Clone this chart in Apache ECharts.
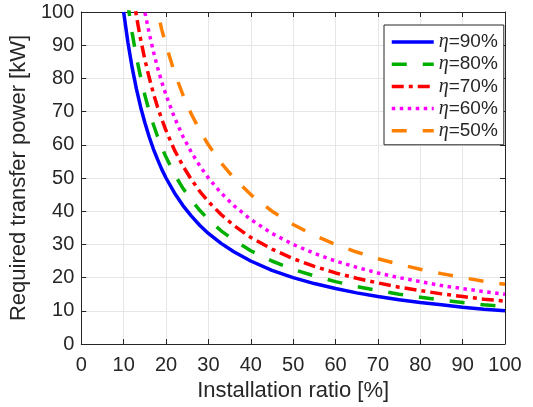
<!DOCTYPE html>
<html>
<head>
<meta charset="utf-8">
<script src="https://cdn.jsdelivr.net/npm/echarts@6/dist/echarts.min.js"></script>
<style>
  html, body { margin: 0; padding: 0; background: #fff; }
  #chart { width: 533px; height: 407px; }
</style>
</head>
<body>
<div id="chart"></div>
<script>
// Installation ratio [%] sample positions
var ratio = [10, 11, 12, 13, 14, 15, 16, 17, 18, 19, 20, 22, 24, 26, 28, 30, 33, 36, 40, 45,
             50, 55, 60, 65, 70, 75, 80, 85, 90, 95, 100];

// Required transfer power [kW] for each efficiency
var eta90 = [100, 90.9, 83.3, 76.9, 71.4, 66.7, 62.5, 58.8, 55.6, 52.6, 50, 45.5, 41.7, 38.5, 35.7,
             33.3, 30.3, 27.8, 25, 22.2, 20, 18.2, 16.7, 15.4, 14.3, 13.3, 12.5, 11.8, 11.1, 10.5, 10];
var eta80 = [112.5, 102.3, 93.8, 86.5, 80.4, 75, 70.3, 66.2, 62.5, 59.2, 56.3, 51.1, 46.9, 43.3, 40.2,
             37.5, 34.1, 31.3, 28.1, 25, 22.5, 20.5, 18.8, 17.3, 16.1, 15, 14.1, 13.2, 12.5, 11.8, 11.3];
var eta70 = [128.6, 116.9, 107.1, 98.9, 91.8, 85.7, 80.4, 75.6, 71.4, 67.7, 64.3, 58.4, 53.6, 49.5, 45.9,
             42.9, 39.0, 35.7, 32.1, 28.6, 25.7, 23.4, 21.4, 19.8, 18.4, 17.1, 16.1, 15.1, 14.3, 13.5, 12.9];
var eta60 = [150, 136.4, 125, 115.4, 107.1, 100, 93.8, 88.2, 83.3, 78.9, 75, 68.2, 62.5, 57.7, 53.6,
             50, 45.5, 41.7, 37.5, 33.3, 30, 27.3, 25, 23.1, 21.4, 20, 18.8, 17.6, 16.7, 15.8, 15];
var eta50 = [180, 163.6, 150, 138.5, 128.6, 120, 112.5, 105.9, 100, 94.7, 90, 81.8, 75, 69.2, 64.3,
             60, 54.5, 50, 45, 40, 36, 32.7, 30, 27.7, 25.7, 24, 22.5, 21.2, 20, 18.9, 18];

var seriesNames = ['90%', '80%', '70%', '60%', '50%'];
var seriesValues = [eta90, eta80, eta70, eta60, eta50];

var lineStyles = [
  { color: '#0000ff', width: 3.5, type: 'solid' },
  { color: '#00b000', width: 3.5, type: [15, 16] },
  { color: '#ff0000', width: 3.5, type: [12, 5, 4, 5] },
  { color: '#ff00ff', width: 3.5, type: [3.5, 4.5] },
  { color: '#ff8000', width: 3.5, type: [15, 16] }
];

var axisColor = '#262626';
var gridColor = '#e6e6e6';
var font = '"Liberation Sans", Arial, Helvetica, sans-serif';

function pairs(xs, ys) {
  return xs.map(function (x, i) { return [x, ys[i]]; });
}

var series = seriesNames.map(function (name, i) {
  return {
    name: name,
    type: 'line',
    data: pairs(ratio, seriesValues[i]),
    showSymbol: false,
    symbol: 'none',
    smooth: false,
    clip: true,
    lineStyle: lineStyles[i],
    itemStyle: { color: lineStyles[i].color },
    z: 10 - i
  };
});

function valueAxis(opts) {
  return Object.assign({
    type: 'value',
    min: 0,
    max: 100,
    interval: 10,
    axisLine: { show: true, onZero: false, lineStyle: { color: axisColor, width: 1 } },
    axisTick: { show: true, inside: true, length: 5, lineStyle: { color: axisColor } },
    axisLabel: { show: true, color: axisColor, fontSize: 20, fontFamily: font },
    splitLine: { show: false }
  }, opts);
}

var chart = echarts.init(document.getElementById('chart'), null, { renderer: 'canvas' });
chart.setOption({
  animation: false,
  backgroundColor: '#ffffff',
  grid: { left: 76, right: 28, top: 12, bottom: 63, containLabel: false },
  xAxis: [
    valueAxis({
      position: 'bottom',
      name: 'Installation ratio [%]',
      nameLocation: 'middle',
      nameGap: 33,
      nameTextStyle: { color: axisColor, fontSize: 22, fontFamily: font },
      axisLabel: { show: true, color: axisColor, fontSize: 20, fontFamily: font, margin: 11 },
      splitLine: { show: true, lineStyle: { color: gridColor, width: 1 } }
    }),
    valueAxis({ position: 'top', axisLabel: { show: false } })
  ],
  yAxis: [
    valueAxis({
      position: 'left',
      name: 'Required transfer power [kW]',
      nameLocation: 'middle',
      nameGap: 47,
      nameTextStyle: { color: axisColor, fontSize: 22, fontFamily: font },
      axisLabel: { show: true, color: axisColor, fontSize: 20, fontFamily: font, margin: 7 },
      splitLine: { show: true, lineStyle: { color: gridColor, width: 1 } }
    }),
    valueAxis({ position: 'right', axisLabel: { show: false } })
  ],
  legend: {
    orient: 'vertical',
    left: 384,
    top: 25,
    padding: [7, 6, 4, 6],
    itemWidth: 42,
    itemHeight: 12,
    itemGap: 2.2,
    itemStyle: { opacity: 0 },
    lineStyle: { width: 3.5 },
    backgroundColor: '#ffffff',
    borderColor: axisColor,
    borderWidth: 1,
    borderRadius: 0,
    data: seriesNames,
    formatter: function (name) { return '{e|η}{t|=' + name + '}'; },
    textStyle: {
      color: axisColor,
      fontSize: 19,
      lineHeight: 17,
      fontFamily: font,
      rich: {
        e: { fontStyle: 'italic', fontFamily: '"Liberation Serif", "Times New Roman", serif', fontSize: 20, lineHeight: 17, color: axisColor },
        t: { fontFamily: font, fontSize: 19, lineHeight: 17, color: axisColor }
      }
    }
  },
  series: series
});
</script>
</body>
</html>
